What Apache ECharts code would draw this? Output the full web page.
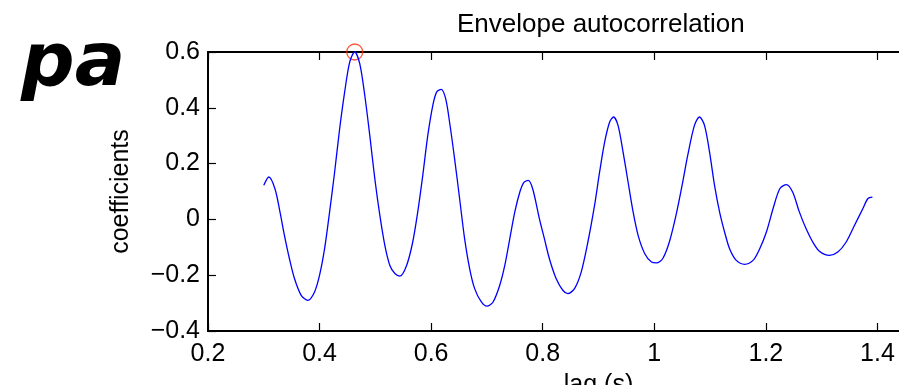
<!DOCTYPE html>
<html>
<head>
<meta charset="utf-8">
<script src="https://cdn.jsdelivr.net/npm/echarts@6/dist/echarts.min.js"></script>
<style>
  html, body { margin: 0; padding: 0; background: #fff; }
  #chart { width: 899px; height: 385px; }
</style>
</head>
<body>
<div id="chart"></div>
<script>
// lag values (s)
const lags = [
  0.300, 0.309, 0.320, 0.329, 0.337, 0.346, 0.355, 0.367, 0.379, 0.391,
  0.400, 0.409, 0.418, 0.427, 0.436, 0.445, 0.454, 0.463, 0.472, 0.481,
  0.490, 0.499, 0.508, 0.517, 0.526, 0.535, 0.544, 0.556, 0.567, 0.576,
  0.585, 0.594, 0.603, 0.610, 0.618, 0.626, 0.633, 0.642, 0.651, 0.660,
  0.669, 0.678, 0.690, 0.700, 0.711, 0.723, 0.732, 0.741, 0.750, 0.759,
  0.766, 0.774, 0.782, 0.794, 0.803, 0.812, 0.824, 0.836, 0.845, 0.857,
  0.869, 0.881, 0.893, 0.902, 0.911, 0.920, 0.927, 0.935, 0.944, 0.953,
  0.962, 0.971, 0.983, 0.995, 1.004, 1.015, 1.027, 1.039, 1.051, 1.060,
  1.072, 1.081, 1.090, 1.099, 1.108, 1.117, 1.126, 1.135, 1.147, 1.162,
  1.177, 1.189, 1.201, 1.213, 1.225, 1.237, 1.248, 1.260, 1.272, 1.284,
  1.296, 1.314, 1.329, 1.344, 1.359, 1.374, 1.383, 1.391
];
// autocorrelation coefficients
const coeffs = [
  0.122, 0.152, 0.110, 0.027, -0.057, -0.141, -0.212, -0.272, -0.290, -0.260,
  -0.200, -0.105, 0.027, 0.170, 0.325, 0.457, 0.564, 0.600, 0.558, 0.445,
  0.301, 0.146, 0.015, -0.093, -0.165, -0.194, -0.203, -0.165, -0.081, 0.027,
  0.158, 0.301, 0.409, 0.457, 0.466, 0.433, 0.349, 0.218, 0.075, -0.069,
  -0.176, -0.248, -0.296, -0.311, -0.296, -0.236, -0.165, -0.069, 0.027, 0.098,
  0.132, 0.140, 0.110, 0.003, -0.069, -0.141, -0.212, -0.254, -0.266, -0.248,
  -0.189, -0.081, 0.051, 0.170, 0.277, 0.349, 0.367, 0.337, 0.242, 0.134,
  0.027, -0.057, -0.123, -0.153, -0.156, -0.141, -0.081, 0.015, 0.134, 0.230,
  0.337, 0.367, 0.337, 0.242, 0.122, 0.027, -0.045, -0.105, -0.147, -0.161,
  -0.147, -0.105, -0.045, 0.039, 0.110, 0.125, 0.098, 0.027, -0.033, -0.081,
  -0.114, -0.129, -0.117, -0.081, -0.021, 0.039, 0.075, 0.080
];
// detected peak
const peakLag = [0.463];
const peakCoeff = [0.600];

const titleText = 'Envelope autocorrelation';
const xName = 'lag (s)';
const yName = 'coefficients';
const panelText = 'pa';

const chart = echarts.init(document.getElementById('chart'), null, { renderer: 'canvas' });

const font = 'Liberation Sans, Arial, Helvetica, sans-serif';
const minus = v => String(v).replace('-', '\u2212');

const axisLine = { show: true, onZero: false, lineStyle: { color: '#000', width: 2 } };
const axisTick = { show: true, inside: true, length: 8, lineStyle: { color: '#000', width: 1.2 } };

chart.setOption({
  backgroundColor: '#fff',
  animation: false,
  title: {
    text: titleText,
    left: 452,
    top: 7,
    textStyle: { fontFamily: font, fontSize: 26, fontWeight: 'normal', color: '#000' }
  },
  graphic: [{
    type: 'text',
    left: 21,
    top: 28,
    style: {
      text: panelText,
      fontFamily: 'DejaVu Sans, sans-serif',
      fontSize: 75,
      fontWeight: 'bold',
      fontStyle: 'italic',
      fill: '#000'
    }
  }],
  // the axes box runs on past the right edge of the picture
  grid: { left: 208, top: 52, height: 279, width: 781, outerBoundsMode: 'none', containLabel: false },
  xAxis: [{
    type: 'value',
    min: 0.2,
    max: 1.6,
    interval: 0.2,
    position: 'bottom',
    name: xName,
    nameLocation: 'middle',
    nameGap: 42,
    nameTextStyle: { fontFamily: font, fontSize: 25, color: '#000', verticalAlign: 'top' },
    axisLine: axisLine,
    axisTick: axisTick,
    axisLabel: { fontFamily: font, fontSize: 25, color: '#000', margin: 11, formatter: minus },
    splitLine: { show: false }
  }, {
    type: 'value',
    min: 0.2,
    max: 1.6,
    interval: 0.2,
    position: 'top',
    axisLine: axisLine,
    axisTick: axisTick,
    axisLabel: { show: false },
    splitLine: { show: false }
  }],
  yAxis: [{
    type: 'value',
    min: -0.4,
    max: 0.6,
    interval: 0.2,
    name: yName,
    nameLocation: 'middle',
    nameGap: 74,
    nameTextStyle: { fontFamily: font, fontSize: 25, color: '#000' },
    axisLine: axisLine,
    axisTick: axisTick,
    axisLabel: { fontFamily: font, fontSize: 25, color: '#000', margin: 8, formatter: minus },
    splitLine: { show: false }
  }],
  series: [{
    type: 'line',
    data: lags.map((x, i) => [x, coeffs[i]]),
    smooth: 0.3,
    showSymbol: false,
    lineStyle: { color: '#0000ff', width: 1.3 },
    clip: false
  }, {
    type: 'scatter',
    data: peakLag.map((x, i) => [x, peakCoeff[i]]),
    symbol: 'circle',
    symbolSize: 16,
    itemStyle: { color: 'rgba(0,0,0,0)', borderColor: '#ff2a00', borderWidth: 1.3 },
    clip: false
  }]
});
</script>
</body>
</html>
